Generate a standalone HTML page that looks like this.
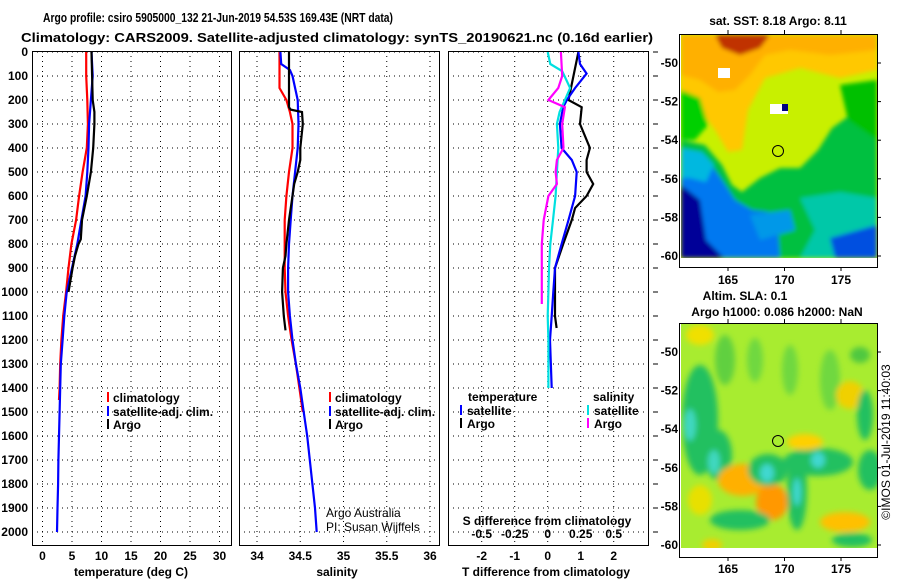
<!DOCTYPE html>
<html><head><meta charset="utf-8"><style>
html,body{margin:0;padding:0;background:#fff;}
svg{display:block;font-family:"Liberation Sans",sans-serif;}
.t{font-weight:bold;font-size:12px;fill:#000;}
.grid{stroke:#000;stroke-width:1;stroke-dasharray:1,4;}
</style></head><body>
<svg id="fig" width="900" height="580" viewBox="0 0 900 580" xmlns="http://www.w3.org/2000/svg">
<defs>
<filter id="bl" x="-10%" y="-10%" width="120%" height="120%"><feGaussianBlur stdDeviation="2"/></filter>
<filter id="bl2" x="-10%" y="-10%" width="120%" height="120%"><feGaussianBlur stdDeviation="3"/></filter>
<clipPath id="c1"><rect x="681" y="35" width="196" height="223"/></clipPath>
<clipPath id="c2"><rect x="681" y="324" width="196" height="224"/></clipPath>
</defs>
<text x="218" y="22" text-anchor="middle" textLength="350" lengthAdjust="spacingAndGlyphs" style="font-size:13px;font-weight:bold">Argo profile: csiro 5905000_132 21-Jun-2019 54.53S 169.43E (NRT data)</text>
<text x="337" y="42" text-anchor="middle" textLength="632" lengthAdjust="spacingAndGlyphs" style="font-size:13px;font-weight:bold">Climatology: CARS2009. Satellite-adjusted climatology: synTS_20190621.nc (0.16d earlier)</text>
<g id="charts"></g>
<!-- SST map -->
<g>
<text x="778" y="25" class="t" text-anchor="middle">sat. SST: 8.18 Argo: 8.11</text>
<g clip-path="url(#c1)">
<rect x="681" y="35" width="196" height="223" fill="#c8f000"/>
<g filter="url(#bl)">
<polygon points="681,35 877,35 877,70 840,78 800,68 765,78 748,110 742,150 728,152 715,130 700,110 681,100" fill="#ffc800"/>
<polygon points="681,35 877,35 877,50 830,55 790,50 765,55 750,75 735,90 718,92 700,80 681,75" fill="#ffb000"/>
<polygon points="715,35 770,35 760,48 740,55 722,48" fill="#c03000"/>
<polygon points="681,90 700,98 708,125 695,140 681,140" fill="#00d000"/>
<polygon points="681,140 705,145 722,165 732,185 742,192 760,178 780,168 800,168 818,150 832,128 860,108 877,105 877,258 681,258" fill="#00c040"/>
<polygon points="681,150 708,160 722,180 735,200 752,210 768,212 778,230 780,258 681,258" fill="#0078f0"/>
<polygon points="681,185 700,200 706,240 724,258 681,258" fill="#000098"/>
<polygon points="681,148 702,152 714,165 706,182 690,178 681,178" fill="#00b8e0"/>
<polygon points="800,198 840,192 877,198 877,258 800,258 815,230" fill="#00c8a8"/>
<polygon points="830,238 877,225 877,258 835,258" fill="#0050e0"/>
<polygon points="840,85 877,80 877,140 848,120" fill="#00c000"/>
<polygon points="750,215 790,210 795,230 760,240" fill="#0098e8"/>
</g>
<rect x="718" y="68" width="12" height="10" fill="#fff"/>
<rect x="770" y="104" width="18" height="10" fill="#fff"/>
<rect x="782" y="104" width="6" height="7" fill="#000080"/>
</g>
<circle cx="778" cy="151" r="5.5" fill="none" stroke="#000" stroke-width="1"/>
<rect x="679.5" y="34.5" width="198" height="233" fill="none" stroke="#000"/>
</g>
<!-- SLA map -->
<g>
<text x="745" y="300" class="t" text-anchor="middle">Altim. SLA: 0.1</text>
<text x="777" y="316" class="t" text-anchor="middle">Argo h1000: 0.086 h2000: NaN</text>
<g clip-path="url(#c2)">
<rect x="681" y="324" width="196" height="224" fill="#a8ec30"/>
<g filter="url(#bl2)">
<ellipse cx="700" cy="335" rx="14" ry="10" fill="#f0e000"/>
<ellipse cx="725" cy="360" rx="10" ry="25" fill="#60d040"/>
<ellipse cx="755" cy="360" rx="8" ry="22" fill="#70d840"/>
<ellipse cx="790" cy="370" rx="8" ry="25" fill="#70d840"/>
<ellipse cx="830" cy="380" rx="10" ry="30" fill="#70d840"/>
<ellipse cx="860" cy="355" rx="10" ry="8" fill="#50c840"/>
<ellipse cx="850" cy="395" rx="14" ry="14" fill="#f0d000"/>
<ellipse cx="865" cy="415" rx="8" ry="25" fill="#20c060"/>
<ellipse cx="700" cy="420" rx="18" ry="55" fill="#20c060"/>
<ellipse cx="718" cy="455" rx="14" ry="25" fill="#20c060"/>
<ellipse cx="714" cy="462" rx="6" ry="12" fill="#40d8c0"/>
<ellipse cx="690" cy="425" rx="6" ry="16" fill="#40d8c0"/>
<ellipse cx="743" cy="480" rx="25" ry="16" fill="#ffb000"/>
<ellipse cx="772" cy="502" rx="16" ry="18" fill="#ff9800"/>
<ellipse cx="768" cy="470" rx="20" ry="16" fill="#20c060"/>
<ellipse cx="767" cy="473" rx="7" ry="9" fill="#40d8d0"/>
<ellipse cx="797" cy="490" rx="10" ry="40" fill="#20c060"/>
<ellipse cx="797" cy="492" rx="4" ry="14" fill="#40d8d0"/>
<ellipse cx="818" cy="462" rx="35" ry="14" fill="#20c060"/>
<ellipse cx="818" cy="460" rx="7" ry="8" fill="#40d8d0"/>
<ellipse cx="870" cy="470" rx="12" ry="20" fill="#20c060"/>
<ellipse cx="740" cy="520" rx="30" ry="10" fill="#20c060"/>
<ellipse cx="845" cy="522" rx="25" ry="10" fill="#ffc000"/>
<ellipse cx="852" cy="540" rx="20" ry="7" fill="#20c060"/>
<ellipse cx="805" cy="442" rx="18" ry="8" fill="#ffd000"/>
<ellipse cx="700" cy="500" rx="12" ry="15" fill="#e8e000"/>
<ellipse cx="712" cy="545" rx="10" ry="6" fill="#f0d000"/>
</g>
</g>
<circle cx="778" cy="441" r="5.5" fill="none" stroke="#000" stroke-width="1"/>
<rect x="679.5" y="323.5" width="198" height="234" fill="none" stroke="#000"/>
<text x="890" y="442" font-size="12" text-anchor="middle" transform="rotate(-90 890 442)" style="font-size:12px">©IMOS 01-Jul-2019 11:40:03</text>
</g>
<g id="mapaxes"></g>
</svg>
<script>
// ---- data ----
const tDepth = [0,100,200,300,400,500,600,700,800,900,1000,1100,1200,1300,1400,1450];
const tClim  = [7.4,7.4,7.6,7.7,7.5,6.8,6.2,5.7,4.9,4.4,4.0,3.5,3.2,3.0,2.9,2.8];
const tSatDepth = [0,100,200,300,400,500,600,700,800,900,1000,1100,1200,1300,1400,1500,1600,1700,1800,1900,2000];
const tSat   = [8.3,8.5,8.2,7.9,7.8,7.6,7.3,6.6,5.9,5.0,4.1,3.7,3.4,3.1,3.0,2.9,2.8,2.7,2.65,2.55,2.45];
const argoDepth = [0,200,250,300,400,500,600,700,780,800,850,900,1000];
const tArgo  = [8.3,8.5,8.8,8.8,8.6,8.2,7.5,6.7,6.5,6.1,5.5,5.1,4.4];
const sClimDepth = [0,150,200,250,300,400,500,600,700,800,900,1000,1100,1200,1300,1400,1500];
const sClim  = [34.26,34.26,34.34,34.38,34.41,34.41,34.37,34.34,34.32,34.32,34.32,34.33,34.36,34.40,34.45,34.49,34.53];
const sSatDepth = [0,50,75,100,200,300,400,500,600,700,800,900,1000,1100,1200,1300,1400,1500,1600,1700,1800,1900,2000];
const sSat   = [34.27,34.28,34.38,34.41,34.47,34.48,34.47,34.44,34.41,34.39,34.37,34.36,34.36,34.38,34.41,34.45,34.50,34.54,34.58,34.61,34.64,34.67,34.69];
const sArgoDepth = [0,230,240,250,300,400,450,500,550,600,700,800,850,900,1000,1100,1160];
const sArgo  = [34.37,34.37,34.39,34.52,34.53,34.50,34.50,34.47,34.43,34.41,34.37,34.34,34.33,34.30,34.29,34.31,34.33];
const dTSatDepth = [0,50,90,150,200,230,300,400,450,500,600,700,800,900,1000,1100,1200,1400];
const dTSat  = [0.93,0.98,1.18,0.83,0.58,0.47,0.37,0.42,0.73,0.88,0.83,0.63,0.42,0.22,0.17,0.12,0.07,0.12];
const dTArgoDepth = [0,200,230,300,400,450,500,550,600,650,700,800,900,1000,1100,1150];
const dTArgo = [0.93,0.63,1.03,0.98,1.28,1.18,1.18,1.38,1.18,0.83,0.73,0.47,0.22,0.22,0.22,0.27];
const dSSatDepth = [0,50,80,150,200,250,300,400,500,600,700,800,900,1000,1100,1200,1400];
const dSSat  = [0.0,0.02,0.11,0.17,0.13,0.09,0.07,0.08,0.07,0.06,0.04,0.02,0.01,0.005,0.0,0.005,0.005];
const dSArgoDepth = [0,100,150,200,230,300,400,450,500,550,600,700,800,900,1000,1050];
const dSArgo = [0.10,0.11,0.08,0.005,0.13,0.11,0.12,0.07,0.06,0.07,0.005,-0.03,-0.045,-0.045,-0.045,-0.045];
const depthTicks = [0,100,200,300,400,500,600,700,800,900,1000,1100,1200,1300,1400,1500,1600,1700,1800,1900,2000];
const tTicks = [0,5,10,15,20,25,30];
const sTicks = [34,34.5,35,35.5,36];
const sTickLabels = ["34","34.5","35","35.5","36"];
const dTTicks = [-2,-1,0,1,2];
const dSTicks = [-0.5,-0.25,0,0.25,0.5];
const dSTickLabels = ["-0.5","-0.25","0","0.25","0.5"];

const NS="http://www.w3.org/2000/svg";
const root=document.getElementById('charts');
function el(tag,attrs,parent){const e=document.createElementNS(NS,tag);for(const k in attrs)e.setAttribute(k,attrs[k]);(parent||root).appendChild(e);return e;}
const yS=d=>52+d*0.24;
const panels=[
 {x0:32,x1:231,xs:v=>42.5+v*5.9,name:'temperature-panel'},
 {x0:239,x1:439,xs:v=>257+(v-34)*86.5,name:'salinity-panel'},
 {x0:448,x1:648,xs:v=>547.7+v*33,name:'difference-panel'}
];
depthTicks.forEach(d=>{
 const t=el('text',{x:28,y:yS(d)+4,'text-anchor':'end',class:'t'});
 t.textContent=d;
 
 
 const k=el('line',{x1:653,x2:658,y1:yS(d),y2:yS(d),stroke:'#000'});
 
 
});
panels.forEach((p,i)=>{
 const g=el('g',{});
 
 
 depthTicks.forEach(d=>{
  const l=el('line',{x1:p.x0,x2:p.x1,y1:yS(d),y2:yS(d),class:'grid'},g);
  
  
 });
 p.g=g;
});
function vgrid(p,ticks,labels,ly){
 ticks.forEach((v,k)=>{
  const x=p.xs(v);
  const l=el('line',{x1:x,x2:x,y1:51,y2:545,class:'grid'},p.g);
  
  
  if(labels){const t=el('text',{x:x,y:ly,'text-anchor':'middle',class:'t'},p.g);
   t.textContent=labels[k];
   
   }
 });
}
vgrid(panels[0],tTicks,tTicks.map(String),560);
vgrid(panels[1],sTicks,sTickLabels,560);
vgrid(panels[2],dTTicks,dTTicks.map(String),560);
dSTicks.forEach((v,k)=>{
 const t=el('text',{x:panels[2].xs(v*4),y:538,'text-anchor':'middle',class:'t'},panels[2].g);
 t.textContent=dSTickLabels[k];
 
 
});
function line(p,depths,vals,color,name,scale){
 const pts=depths.map((d,k)=>p.xs(vals[k]*(scale||1)).toFixed(1)+','+yS(d).toFixed(1)).join(' ');
 const pl=el('polyline',{points:pts,fill:'none',stroke:color,'stroke-width':2.2},p.g);
 
 
}
line(panels[0],tDepth,tClim,'#f00','temp-climatology-line');
line(panels[0],tSatDepth,tSat,'#00f','temp-satellite-line');
line(panels[0],argoDepth,tArgo,'#000','temp-argo-line');
line(panels[1],sClimDepth,sClim,'#f00','sal-climatology-line');
line(panels[1],sSatDepth,sSat,'#00f','sal-satellite-line');
line(panels[1],sArgoDepth,sArgo,'#000','sal-argo-line');
line(panels[2],dTArgoDepth,dTArgo,'#000','dT-argo-line');
line(panels[2],dTSatDepth,dTSat,'#00f','dT-satellite-line');
line(panels[2],dSSatDepth,dSSat,'#00e0e0','dS-satellite-line',4);
line(panels[2],dSArgoDepth,dSArgo,'#f0f','dS-argo-line',4);
panels.forEach(p=>{
 const r=el('rect',{x:p.x0+0.5,y:51.5,width:p.x1-p.x0,height:494,fill:'none',stroke:'#000','stroke-width':1},p.g);
 
 
});
function txt(x,y,s,name,anchor){
 const t=el('text',{x:x,y:y,'text-anchor':anchor||'start',class:'t'});
 t.textContent=s;
 
 
 return t;
}
function key(x,y,color){
 const l=el('line',{x1:x,x2:x,y1:y-10,y2:y,stroke:color,'stroke-width':2});
 
 
}
[[108,113],[330,335]].forEach(([kx,tx])=>{
 key(kx,402,'#f00');txt(tx,402,'climatology','legend-climatology');
 key(kx,416,'#00f');txt(tx,416,'satellite-adj. clim.','legend-satellite');
 key(kx,429,'#000');txt(tx,429,'Argo','legend-argo');
});
txt(468,401,'temperature','legend-temperature-heading');
key(461,415,'#00f');txt(467,415,'satellite','legend-t-satellite');
key(461,428,'#000');txt(467,428,'Argo','legend-t-argo');
txt(593,401,'salinity','legend-salinity-heading');
key(588,415,'#00e0e0');txt(594,415,'satellite','legend-s-satellite');
key(588,428,'#f0f');txt(594,428,'Argo','legend-s-argo');
txt(547,525,'S difference from climatology','s-diff-axis-title','middle');
txt(131,576,'temperature (deg C)','x-axis-title-temperature','middle');
txt(337,576,'salinity','x-axis-title-salinity','middle');
txt(546,576,'T difference from climatology','x-axis-title-diff','middle');
const a1=el('text',{x:326,y:517,'font-size':12});a1.textContent='Argo Australia';


const a2=el('text',{x:326,y:531,'font-size':12});a2.textContent='PI: Susan Wijffels';


const ma=document.getElementById('mapaxes');
const lonTicks=[165,170,175];
const latTicks=[-50,-52,-54,-56,-58,-60];
const lonX=v=>728+(v-165)*11.3;
[[34,267,278],[323,557,567]].forEach(([top,bot,ly])=>{
 const latY=v=>top+29+(-50-v)*19.3;
 lonTicks.forEach(v=>{
  el('line',{x1:lonX(v),x2:lonX(v),y1:top-4,y2:top,stroke:'#000'},ma);
  el('line',{x1:lonX(v),x2:lonX(v),y1:bot,y2:bot+4,stroke:'#000'},ma);
  const t=el('text',{x:lonX(v),y:ly+6,'text-anchor':'middle',class:'t'},ma);t.textContent=v;
  
  
 });
 latTicks.forEach(v=>{
  el('line',{x1:877,x2:881,y1:latY(v),y2:latY(v),stroke:'#000'},ma);
  const t=el('text',{x:678,y:latY(v)+4,'text-anchor':'end',class:'t'},ma);t.textContent=v;
  
  
 });
});
</script>
</body></html>
